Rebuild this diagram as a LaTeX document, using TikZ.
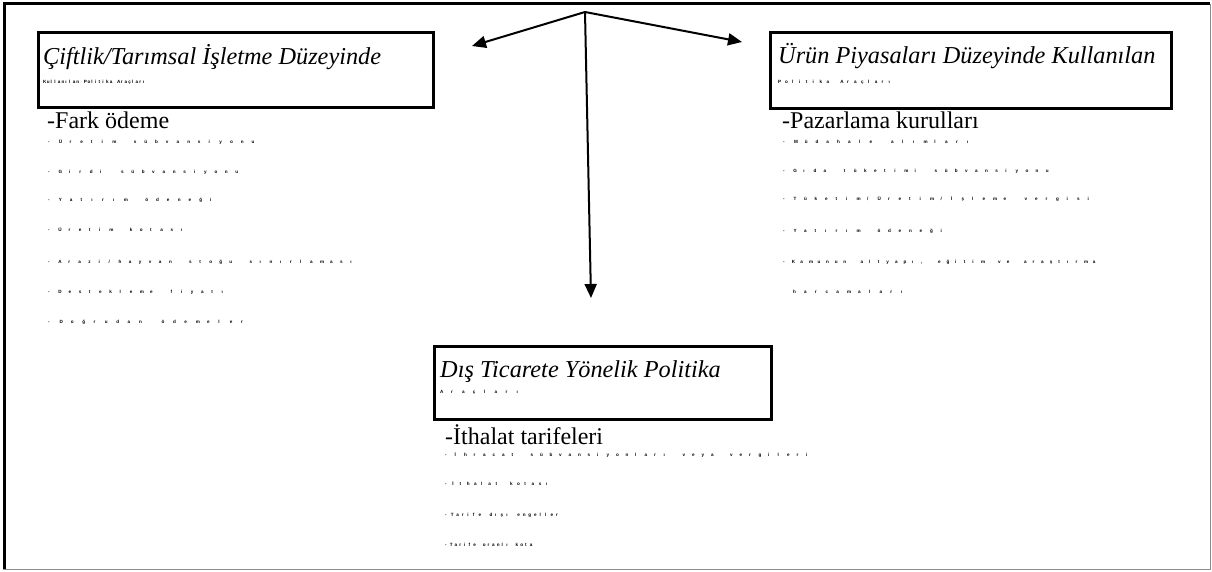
\documentclass[tikz,border=0pt]{standalone}
\usepackage{fontspec}
\setmainfont{Liberation Serif}
\newfontfamily\tinyf{Liberation Sans}
\usetikzlibrary{arrows.meta}
\ExplSyntaxOn
\NewDocumentCommand\spc{mm}{
  \seq_set_split:Nnn \l_tmpa_seq {~} {#2}
  \seq_map_indexed_inline:Nn \l_tmpa_seq
    {
      \int_compare:nNnT {##1} > {1} { \hspace*{#1} }
      \tl_map_inline:nn {##2} { \makebox[#1][l]{####1} }
    }
}
\ExplSyntaxOff
\begin{document}
\begin{tikzpicture}[x=1pt,y=-1pt,
  box/.style={draw,line width=3pt,inner sep=0,outer sep=0},
  title/.style={anchor=base west,inner sep=0,font=\fontsize{24.3}{28}\selectfont\itshape},
  head/.style={anchor=base west,inner sep=0,font=\fontsize{24}{28}\selectfont},
  dots/.style={anchor=base west,inner sep=0,font=\tinyf\bfseries\fontsize{4.6}{5}\selectfont},
  arr/.style={line width=2pt,-{Triangle[length=14pt,width=12pt]}}]
\useasboundingbox (0,0) rectangle (1212,572);
% page frame
\draw[line width=3pt] (4.5,569) -- (4.5,4) -- (1210,4);
\draw[black!45,line width=1.5pt] (1210.5,4) -- (1210.5,569.5) -- (3,569.5);

% boxes
\node[box,minimum width=395pt,minimum height=74.5pt] (farm) at (235.5,70.25) {};
\node[box,minimum width=400.5pt,minimum height=75.5pt] (market) at (970.75,70.75) {};
\node[box,minimum width=337.5pt,minimum height=73pt] (trade) at (602.75,382.5) {};

% box titles
\node[title] (farmT) at (43,65) {Çiftlik/Tarımsal İşletme Düzeyinde};
\node[dots] (farmS) at (43,83.5) {\spc{3.7pt}{Kullanılan Politika Araçları}};
\node[title] (marketT) at (778,64) {Ürün Piyasaları Düzeyinde Kullanılan};
\node[dots] (marketS) at (778,83.5) {\spc{6.9pt}{Politika Araçları}};
\node[title] (tradeT) at (440,377) {Dış Ticarete Yönelik Politika};
\node[dots] (tradeS) at (440,393.5) {\spc{10.9pt}{Araçları}};

% left list
\node[head] (l0) at (47,129) {-Fark ödeme};
\node[dots] (l1) at (48,143.5) {\spc{10.7pt}{-Üretim sübvansiyonu}};
\node[dots] (l2) at (48,173.5) {\spc{10.4pt}{-Girdi sübvansiyonu}};
\node[dots] (l3) at (48,201.5) {\spc{10.8pt}{-Yatırım ödeneği}};
\node[dots] (l4) at (48,231.5) {\spc{10.2pt}{-Üretim kotası}};
\node[dots] (l5) at (48,263.5) {\spc{10.07pt}{-Arazi/hayvan stoğu sınırlaması}};
\node[dots] (l6) at (48,293.5) {\spc{10.2pt}{-Destekleme fiyatı}};
\node[dots] (l7) at (48,323.5) {\spc{11.35pt}{-Doğrudan ödemeler}};

% right list
\node[head] (r0) at (782,129) {-Pazarlama kurulları};
\node[dots] (r1) at (783,143.5) {\spc{10.8pt}{-Müdahale alımları}};
\node[dots] (r2) at (783,172.5) {\spc{10.1pt}{-Gıda tüketimi sübvansiyonu}};
\node[dots] (r3) at (783,200.5) {\spc{10.5pt}{-Tüketim/Üretim/İşleme vergisi}};
\node[dots] (r4) at (783,232.5) {\spc{10.5pt}{-Yatırım ödeneği}};
\node[dots] (r5) at (783,263.5) {\spc{8.6pt}{-Kamunun altyapı, eğitim ve araştırma}};
\node[dots] (r6) at (793,293.5) {\spc{10.8pt}{harcamaları}};

% bottom list
\node[head] (b0) at (445,444) {-İthalat tarifeleri};
\node[dots] (b1) at (445,456.5) {\spc{9.5pt}{-İhracat sübvansiyonları veya vergileri}};
\node[dots] (b2) at (445,485.5) {\spc{7.2pt}{-İthalat kotası}};
\node[dots] (b3) at (445,516.5) {\spc{5.55pt}{-Tarife dışı engeller}};
\node[dots] (b4) at (445,546.5) {\spc{4.7pt}{-Tarife oranlı kota}};

% arrows
\coordinate (apex) at (585,12);
\coordinate (tipL) at (472,46);
\coordinate (tipR) at (742,42);
\coordinate (tipD) at (591,298);
\draw[arr] (apex) -- (tipL);
\draw[arr] (apex) -- (tipR);
\draw[arr] (apex) -- (tipD);
\end{tikzpicture}
\end{document}
